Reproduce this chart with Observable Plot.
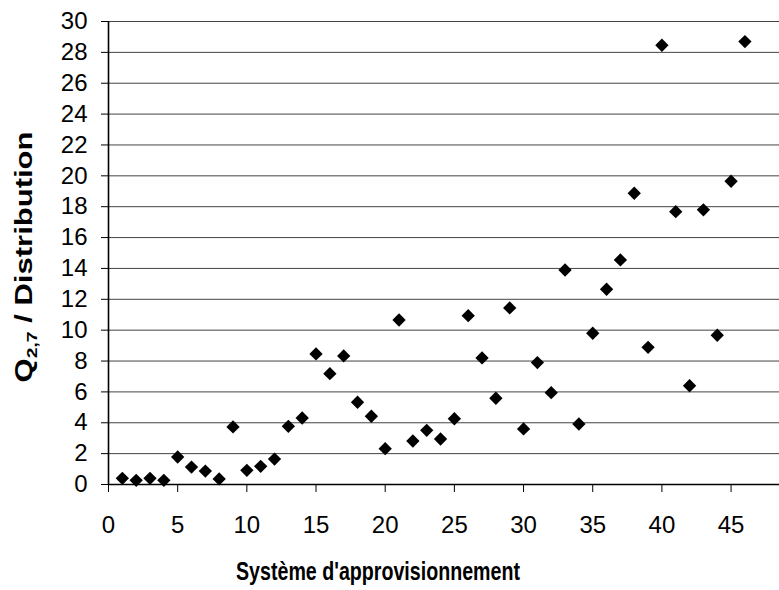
<!DOCTYPE html>
<html>
<head>
<meta charset="utf-8">
<script src="https://cdn.jsdelivr.net/npm/d3@7"></script>
<script src="https://cdn.jsdelivr.net/npm/@observablehq/plot@0.6"></script>
<style>
  html, body { margin: 0; padding: 0; background: #fff; }
  svg { display: block; }
</style>
</head>
<body>
<div id="chart"></div>
<script>
// Supply systems (x) and the Q2,7 / distribution ratio for each one (y)
const systems = [
  1, 2, 3, 4, 5, 6, 7, 8, 9, 10,
  11, 12, 13, 14, 15, 16, 17, 18, 19, 20,
  21, 22, 23, 24, 25, 26, 27, 28, 29, 30,
  31, 32, 33, 34, 35, 36, 37, 38, 39, 40,
  41, 42, 43, 44, 45, 46
];
const ratios = [
  0.40, 0.27, 0.40, 0.27, 1.78, 1.13, 0.87, 0.36, 3.73, 0.92,
  1.18, 1.65, 3.77, 4.31, 8.46, 7.18, 8.33, 5.33, 4.42, 2.32,
  10.66, 2.82, 3.51, 2.95, 4.26, 10.94, 8.20, 5.59, 11.44, 3.60,
  7.90, 5.95, 13.90, 3.92, 9.80, 12.65, 14.55, 18.87, 8.89, 28.46,
  17.68, 6.40, 17.80, 9.67, 19.65, 28.70
];
const xTicks = [0, 5, 10, 15, 20, 25, 30, 35, 40, 45];
const yTicks = [0, 2, 4, 6, 8, 10, 12, 14, 16, 18, 20, 22, 24, 26, 28, 30];

const data = systems.map((s, i) => ({system: s, ratio: ratios[i]}));

const font = "'Liberation Sans', Arial, Helvetica, sans-serif";

const chart = Plot.plot({
  width: 779,
  height: 590,
  marginLeft: 108,
  marginRight: 0,
  marginTop: 21,
  marginBottom: 106,
  style: {fontFamily: font, fontSize: "24px", color: "#000", background: "#fff"},
  x: {domain: [0, 48.5]},
  y: {domain: [0, 30]},
  marks: [
    Plot.gridY(yTicks, {stroke: "#444", strokeOpacity: 1, strokeWidth: 1}),
    Plot.axisY(yTicks, {tickSize: 7, tickPadding: 14, fontSize: 24, label: null, stroke: "#000"}),
    Plot.axisX(xTicks, {tickSize: 8, tickPadding: 23, fontSize: 24, label: null, stroke: "#000"}),
    Plot.ruleX([0], {stroke: "#000", strokeWidth: 1.6}),
    Plot.ruleY([0], {stroke: "#000", strokeWidth: 1.6}),
    Plot.dot(data, {x: "system", y: "ratio", symbol: "diamond2", r: 6, fill: "#000", stroke: "none"})
  ]
});

const svg = d3.select(chart);

// Horizontal axis title
svg.append("text")
  .attr("x", 378)
  .attr("y", 580)
  .attr("text-anchor", "middle")
  .attr("font-family", font)
  .attr("font-weight", "bold")
  .attr("font-size", 25)
  .attr("textLength", 284)
  .attr("lengthAdjust", "spacingAndGlyphs")
  .attr("fill", "#000")
  .text("Système d'approvisionnement");

// Vertical axis title with the subscript
const yTitle = svg.append("text")
  .attr("transform", "translate(32,257) rotate(-90)")
  .attr("text-anchor", "middle")
  .attr("font-family", font)
  .attr("font-weight", "bold")
  .attr("font-size", 24)
  .attr("textLength", 251)
  .attr("lengthAdjust", "spacingAndGlyphs")
  .attr("fill", "#000");
yTitle.append("tspan").text("Q");
yTitle.append("tspan").attr("font-size", 15).attr("dy", 5).text("2,7");
yTitle.append("tspan").attr("dy", -5).text(" / Distribution");

document.getElementById("chart").appendChild(chart);
</script>
</body>
</html>
